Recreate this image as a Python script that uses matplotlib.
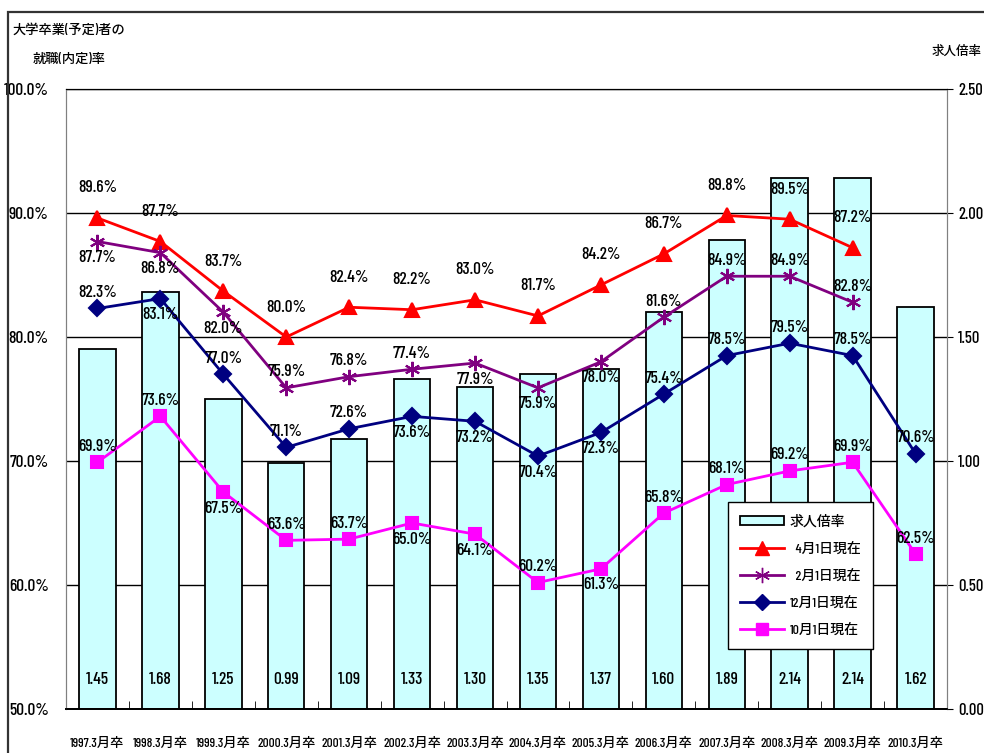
import numpy as np
import matplotlib
matplotlib.use("Agg")
import matplotlib.pyplot as plt
from matplotlib.lines import Line2D
from matplotlib.patches import Patch, Rectangle
from matplotlib import font_manager

# ---- data ----
years = ["1997.3月卒", "1998.3月卒", "1999.3月卒", "2000.3月卒", "2001.3月卒",
         "2002.3月卒", "2003.3月卒", "2004.3月卒", "2005.3月卒", "2006.3月卒",
         "2007.3月卒", "2008.3月卒", "2009.3月卒", "2010.3月卒"]
job_ratio = [1.45, 1.68, 1.25, 0.99, 1.09, 1.33, 1.30, 1.35, 1.37, 1.60,
             1.89, 2.14, 2.14, 1.62]
apr1 = [89.6, 87.7, 83.7, 80.0, 82.4, 82.2, 83.0, 81.7, 84.2, 86.7,
        89.8, 89.5, 87.2, None]
feb1 = [87.7, 86.8, 82.0, 75.9, 76.8, 77.4, 77.9, 75.9, 78.0, 81.6,
        84.9, 84.9, 82.8, None]
dec1 = [82.3, 83.1, 77.0, 71.1, 72.6, 73.6, 73.2, 70.4, 72.3, 75.4,
        78.5, 79.5, 78.5, 70.6]
oct1 = [69.9, 73.6, 67.5, 63.6, 63.7, 65.0, 64.1, 60.2, 61.3, 65.8,
        68.1, 69.2, 69.9, 62.5]

# label placement: +1 above the marker, -1 below
apr_side = [1] * 14
feb_side = [-1, -1, -1, 1, 1, 1, -1, -1, -1, 1, 1, 1, 1, 1]
dec_side = [1, -1, 1, 1, 1, -1, -1, -1, -1, 1, 1, 1, 1, 1]
oct_side = [1, 1, -1, 1, 1, -1, -1, 1, -1, 1, 1, 1, 1, 1]

# ---- fonts: a narrow latin face, CJK fallback ----
avail = {f.name for f in font_manager.fontManager.ttflist}
narrow = None
for cand in ["Barlow Condensed", "Archivo Narrow", "Roboto Condensed",
             "Liberation Sans Narrow"]:
    if cand in avail:
        narrow = cand
        break
if narrow:
    FAM = [narrow, "Noto Sans CJK JP", "DejaVu Sans"]
    k = 1.0
else:
    FAM = ["Liberation Sans", "Noto Sans CJK JP", "DejaVu Sans"]
    k = 0.8
plt.rcParams["font.family"] = FAM
plt.rcParams["font.weight"] = 500

fig = plt.figure(figsize=(9.84, 7.53), dpi=100)
ax2 = fig.add_axes([66 / 984, 44 / 753, 881 / 984, 620 / 753])
ax = ax2.twinx()

x = np.arange(len(years))

# outer frame of the sheet
fig.patches.append(Rectangle((8 / 984, -0.1), 1.2, 1.0 - 12 / 753 + 0.1,
                             transform=fig.transFigure, fill=False,
                             edgecolor="#333333", linewidth=1.6))

# bars (right axis) with grid below
ax2.set_ylim(0, 2.5)
ax2.set_yticks(np.arange(0, 2.51, 0.5))
ax2.yaxis.tick_right()
ax2.set_yticklabels([f"{v:.2f}" for v in np.arange(0, 2.51, 0.5)],
                    fontsize=12 * k)
ax2.grid(axis="y", color="black", linewidth=1.0)
ax2.set_axisbelow(True)
ax2.bar(x, job_ratio, width=0.58, color="#CCFFFF", edgecolor="black",
        linewidth=1.3, zorder=2)
for xi, v in zip(x, job_ratio):
    ax2.text(xi, 0.035, f"{v:.2f}", transform=ax2.get_xaxis_transform(),
             ha="center", va="bottom", fontsize=12.5 * k, zorder=3)

ax2.set_xlim(-0.5, len(years) - 0.5)
ax2.set_xticks(x)
ax2.set_xticklabels(years, fontsize=9.5 * k)
ax2.tick_params(axis="x", which="major", length=0, pad=21)
ax2.set_xticks(np.arange(0.5, len(years) - 1, 1), minor=True)
ax2.tick_params(axis="x", which="minor", direction="in", length=6, color="black")
ax2.tick_params(axis="y", right=True, left=False, length=4, pad=4)

# lines (left axis) on top
ax.set_zorder(ax2.get_zorder() + 1)
ax.patch.set_visible(False)
ax.yaxis.tick_left()
ax.set_ylim(50, 100)
ax.set_yticks(np.arange(50, 101, 10))
ax.set_yticklabels([f"{v:.1f}%" for v in np.arange(50, 101, 10)],
                   fontsize=12.5 * k)
ax.tick_params(axis="y", left=False, right=False, pad=9)


def series(vals):
    xs = [xi for xi, v in zip(x, vals) if v is not None]
    ys = [v for v in vals if v is not None]
    return xs, ys


styles = [
    (apr1, apr_side, "#FF0000", "^", 10, "  4月1日現在"),
    (feb1, feb_side, "#800080", (6, 2, 0), 11, "  2月1日現在"),
    (dec1, dec_side, "#000080", "D", 8, "12月1日現在"),
    (oct1, oct_side, "#FF00FF", "s", 8, "10月1日現在"),
]
handles = [Patch(facecolor="#CCFFFF", edgecolor="black", linewidth=1.3)]
labels = ["求人倍率"]
for vals, side, col, mk, ms, name in styles:
    xs, ys = series(vals)
    ax.plot(xs, ys, color=col, linewidth=2.0, marker=mk, markersize=ms,
            markeredgecolor=col, markeredgewidth=1.5, zorder=4)
    for xi, v, s in zip(x, vals, side):
        if v is None:
            continue
        off = 30 if (s > 0 and col == "#FF0000") else 16
        ax.annotate(f"{v:.1f}%", (xi, v), xytext=(0, off * s),
                    textcoords="offset pixels",
                    ha="center", va="center", fontsize=12.5 * k, zorder=5)
    handles.append(Line2D([0], [0], color=col, linewidth=2.0, marker=mk,
                          markersize=ms, markeredgecolor=col))
    labels.append(name)

leg = ax.legend(handles, labels, loc="lower left",
                bbox_to_anchor=(0.743, 0.085), fontsize=10 * k, frameon=True,
                fancybox=False, edgecolor="black", framealpha=1,
                borderpad=0.9, labelspacing=1.0, handlelength=3.2,
                handletextpad=0.4)
leg.get_frame().set_linewidth(1.0)

for a in (ax, ax2):
    a.spines["left"].set_color("#808080")
    a.spines["right"].set_color("#808080")
    a.spines["top"].set_color("black")
    a.spines["bottom"].set_color("black")
    a.spines["bottom"].set_linewidth(1.3)

fig.text(13 / 984, 1 - 30 / 753, "大学卒業(予定)者の", fontsize=9.5,
         ha="left", va="center")
fig.text(33 / 984, 1 - 60 / 753, "就職(内定)率", fontsize=9.5,
         ha="left", va="center")
fig.text(982 / 984, 1 - 52 / 753, "求人倍率", fontsize=9,
         ha="right", va="center")

fig.savefig("out.png", dpi=100)
